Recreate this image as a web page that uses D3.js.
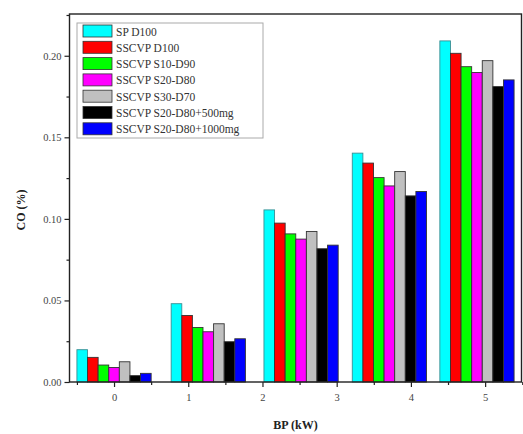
<!DOCTYPE html>
<html>
<head>
<meta charset="utf-8">
<script src="https://cdn.jsdelivr.net/npm/d3@7"></script>
<style>
  body { margin: 0; background: #fff; }
  svg text { font-family: "Liberation Serif", "Times New Roman", serif; }
</style>
</head>
<body>
<svg id="chart" width="523" height="434"></svg>
<script>
// Brake power at which each group of bars was measured (kW)
const bpValues = [0, 1.27, 2.52, 3.71, 4.89];
const xTickLabels = [0, 1, 2, 3, 4, 5];
const yTickLabels = [0.00, 0.05, 0.10, 0.15, 0.20];

const seriesNames = [
  "SP D100",
  "SSCVP D100",
  "SSCVP S10-D90",
  "SSCVP S20-D80",
  "SSCVP S30-D70",
  "SSCVP S20-D80+500mg",
  "SSCVP S20-D80+1000mg"
];
const seriesColors = ["#00ffff", "#ff0000", "#00ff00", "#ff00ff", "#c0c0c0", "#000000", "#0000ff"];

// CO emission (%) per series, one value per brake-power level
const spD100      = [0.0198, 0.0480, 0.1055, 0.1403, 0.2091];
const sscvpD100   = [0.0151, 0.0408, 0.0974, 0.1342, 0.2015];
const sscvpS10D90 = [0.0104, 0.0334, 0.0908, 0.1253, 0.1933];
const sscvpS20D80 = [0.0089, 0.0308, 0.0876, 0.1202, 0.1897];
const sscvpS30D70 = [0.0124, 0.0357, 0.0923, 0.1290, 0.1970];
const sscvp500mg  = [0.0039, 0.0247, 0.0817, 0.1141, 0.1811];
const sscvp1000mg = [0.0053, 0.0265, 0.0839, 0.1168, 0.1852];
const seriesValues = [spD100, sscvpD100, sscvpS10D90, sscvpS20D80, sscvpS30D70, sscvp500mg, sscvp1000mg];

const svg = d3.select("#chart");
const margin = { left: 69.5, right: 1.5, top: 14, bottom: 52 };
const W = 523, H = 434;

const x = d3.scaleLinear().domain([-0.6, 5.49]).range([margin.left, W - margin.right]);
const y = d3.scaleLinear().domain([0, 0.2256]).range([H - margin.bottom, margin.top]);

// each group spans one kW unit, split evenly among the series
const inner = d3.scaleBand().domain(d3.range(seriesNames.length)).range([-0.5, 0.5]).padding(0);

const plotG = svg.append("g");
seriesValues.forEach((vals, si) => {
  plotG.selectAll(null)
    .data(vals.map((v, gi) => ({ v, bp: bpValues[gi] })))
    .enter().append("rect")
    .attr("x", d => x(d.bp + inner(si)))
    .attr("width", d => x(d.bp + inner(si) + inner.bandwidth()) - x(d.bp + inner(si)))
    .attr("y", d => y(d.v))
    .attr("height", d => y(0) - y(d.v))
    .attr("fill", seriesColors[si])
    .attr("stroke", si === 0 ? "#3a8f94" : "#333")
    .attr("stroke-width", 0.9);
});

// frame
const axisColor = "#222";
svg.append("rect")
  .attr("x", x.range()[0]).attr("y", y.range()[1])
  .attr("width", x.range()[1] - x.range()[0])
  .attr("height", y.range()[0] - y.range()[1])
  .attr("fill", "none").attr("stroke", axisColor).attr("stroke-width", 1.4);

// x axis
const xAxis = d3.axisBottom(x).tickValues(xTickLabels).tickFormat(d3.format("d")).tickSize(5).tickPadding(7);
svg.append("g").attr("transform", `translate(0,${y(0)})`).call(xAxis);
const xMinor = d3.axisBottom(x).tickValues(d3.range(-0.5, 5.6, 1)).tickFormat("").tickSize(3);
svg.append("g").attr("transform", `translate(0,${y(0)})`).call(xMinor);

// y axis
const yAxis = d3.axisLeft(y).tickValues(yTickLabels).tickFormat(d3.format(".2f")).tickSize(5).tickPadding(3);
svg.append("g").attr("transform", `translate(${x.range()[0]},0)`).call(yAxis);
const yMinor = d3.axisLeft(y).tickValues([0.025, 0.075, 0.125, 0.175, 0.225]).tickFormat("").tickSize(3);
svg.append("g").attr("transform", `translate(${x.range()[0]},0)`).call(yMinor);

svg.selectAll(".domain").remove();
svg.selectAll(".tick line").attr("stroke", axisColor).attr("stroke-width", 1.2);
svg.selectAll(".tick text").attr("font-size", 10.5).attr("fill", "#444")
  .style("font-family", "'Liberation Serif', serif");

// axis titles
svg.append("text")
  .attr("x", (x.range()[0] + x.range()[1]) / 2).attr("y", 429)
  .attr("text-anchor", "middle").attr("font-size", 12).attr("font-weight", "bold").attr("fill", "#222")
  .text("BP (kW)");
svg.append("text")
  .attr("transform", `translate(25,${(y.range()[0] + y.range()[1]) / 2 + 12}) rotate(-90)`)
  .attr("text-anchor", "middle").attr("font-size", 12).attr("font-weight", "bold").attr("fill", "#222")
  .text("CO (%)");

// legend
const lg = svg.append("g").attr("transform", "translate(77,23)");
lg.append("rect").attr("width", 186).attr("height", 115)
  .attr("fill", "#fff").attr("stroke", "#aaa").attr("stroke-width", 1);
seriesNames.forEach((name, i) => {
  const row = lg.append("g").attr("transform", `translate(6,${2 + i * 16.3})`);
  row.append("rect").attr("width", 29).attr("height", 12)
    .attr("fill", seriesColors[i]).attr("stroke", "#333").attr("stroke-width", 0.8);
  row.append("text").attr("x", 33).attr("y", 10.5).attr("font-size", 11.5).attr("fill", "#333")
    .attr("textLength", null).text(name);
});
</script>
</body>
</html>
